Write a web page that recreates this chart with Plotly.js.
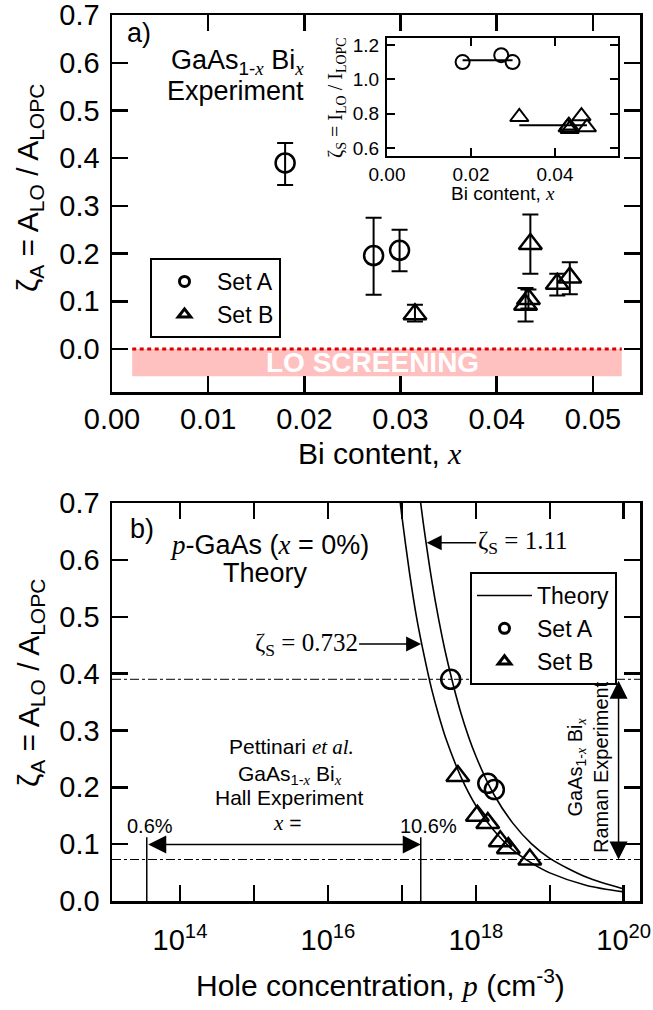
<!DOCTYPE html>
<html><head><meta charset="utf-8">
<script src="https://cdn.plot.ly/plotly-3.0.1.min.js"></script>
<style>html,body{margin:0;padding:0;background:#fff}</style>
</head><body><div id="chart" style="width:653px;height:1010px"></div>
<script>
// ---------------- data ----------------
const setA_x = [0.018, 0.0272, 0.0299];
const setA_zetaA = [0.39, 0.196, 0.207];
const setA_errPlus = [0.042, 0.079, 0.043];
const setA_errMinus = [0.046, 0.082, 0.044];
const setA_zetaS = [1.10, 1.14, 1.10];
const setA_p = [4.57e17, 1.78e18, 1.45e18];

const setB_x = [0.0315, 0.0430, 0.0433, 0.0435, 0.0463, 0.0476];
const setB_zetaA = [0.073, 0.093, 0.105, 0.220, 0.137, 0.150];
const setB_errPlus = [0.020, 0.035, 0.020, 0.062, 0.021, 0.032];
const setB_errMinus = [0.015, 0.035, 0.020, 0.062, 0.025, 0.035];
const setB_zetaS = [0.78, 0.72, 0.73, 0.71, 0.785, 0.72];
const setB_p = [5.37e18, 2.75e18, 2.14e18, 5.71e17, 1.45e18, 1.05e18];

const zetaS_A = 1.11, zetaS_B = 0.732;

const theoryLow_p = [9.12e16, 1e17, 1.26e17, 1.58e17, 2e17, 2.51e17, 3.16e17, 3.98e17, 6.31e17, 1e18, 1.78e18, 3.16e18, 5.62e18, 1e19, 3.16e19, 1e20];
const theoryLow_zeta = [0.721, 0.677, 0.580, 0.499, 0.4315, 0.374, 0.326, 0.284, 0.218, 0.168, 0.123, 0.090, 0.067, 0.0495, 0.0274, 0.016];
const theoryHigh_p = [1.74e17, 2e17, 2.51e17, 3.16e17, 3.98e17, 6.31e17, 1e18, 1.78e18, 3.16e18, 5.62e18, 1e19, 3.16e19, 1e20];
const theoryHigh_zeta = [0.714, 0.654, 0.5675, 0.494, 0.431, 0.330, 0.255, 0.186, 0.137, 0.101, 0.075, 0.0416, 0.021];

const hall_p = [3.55e13, 1.8e17];
const hall_labels = ['0.6%', '10.6%'];

const seriesNames = ['Set A', 'Set B', 'Theory'];
const xTicksA = [0, 0.01, 0.02, 0.03, 0.04, 0.05];
const yTicksA = [0, 0.1, 0.2, 0.3, 0.4, 0.5, 0.6, 0.7];
const xTicksInset = [0, 0.02, 0.04];
const yTicksInset = [0.6, 0.8, 1.0, 1.2];
const pTickVals = [1e14, 1e15, 1e16, 1e17, 1e18, 1e19, 1e20];
const pTickText = ['10<sup>14</sup>', '', '10<sup>16</sup>', '', '10<sup>18</sup>', '', '10<sup>20</sup>'];

// ---------------- helpers ----------------
const W = 653, H = 1010;
const P = X => X / W, Q = Y => 1 - Y / H;
const SANS = 'Liberation Sans, Arial, sans-serif';
const SERIF = 'Liberation Serif, Times New Roman, serif';
const ix = s => `<i><span style="font-family:${SERIF}">${s}</span></i>`;
const lg = v => Math.log10(v);

const zMax = Math.max(...setA_zetaA, ...setB_zetaA);
const zMin = Math.min(...setA_zetaA, ...setB_zetaA);

const mk = (sym, size, lw) => ({symbol: sym, size: size, color: 'black', line: {width: lw, color: 'black'}});
const err = (p, m) => ({type: 'data', symmetric: false, array: p, arrayminus: m, color: 'black', thickness: 2, width: 8});
// legend-only entries (no data drawn), so legend symbols can be sized like the reference
const legItem = (name, leg, xa, ya, extra) => Object.assign({x: [null], y: [null], name: name, legend: leg,
  xaxis: xa, yaxis: ya, hoverinfo: 'skip'}, extra);

const traces = [
  {x: setA_x, y: setA_zetaA, mode: 'markers', name: 'Set A', showlegend: false, xaxis: 'x', yaxis: 'y',
   marker: mk('circle-open', 19, 2.5), error_y: err(setA_errPlus, setA_errMinus)},
  {x: setB_x, y: setB_zetaA, mode: 'markers', name: 'Set B', showlegend: false, xaxis: 'x', yaxis: 'y',
   marker: mk('triangle-up-open', 20, 2.5), error_y: err(setB_errPlus, setB_errMinus)},
  legItem(seriesNames[0], 'legend', 'x', 'y', {mode: 'markers', marker: mk('circle-open', 10, 3)}),
  legItem(seriesNames[1], 'legend', 'x', 'y', {mode: 'markers', marker: mk('triangle-up-open', 11, 3)}),
  // inset
  {x: [Math.min(...setA_x), Math.max(...setA_x)], y: [zetaS_A, zetaS_A], mode: 'lines', xaxis: 'x2', yaxis: 'y2',
   line: {color: 'black', width: 2}, showlegend: false},
  {x: [Math.min(...setB_x), Math.max(...setB_x)], y: [zetaS_B, zetaS_B], mode: 'lines', xaxis: 'x2', yaxis: 'y2',
   line: {color: 'black', width: 2}, showlegend: false},
  {x: setA_x, y: setA_zetaS, mode: 'markers', xaxis: 'x2', yaxis: 'y2', showlegend: false,
   marker: mk('circle-open', 14, 2)},
  {x: setB_x, y: setB_zetaS, mode: 'markers', xaxis: 'x2', yaxis: 'y2', showlegend: false,
   marker: mk('triangle-up-open', 16, 2)},
  // bottom panel
  {x: theoryLow_p, y: theoryLow_zeta, mode: 'lines', name: 'Theory', showlegend: false, xaxis: 'x3', yaxis: 'y3',
   line: {color: 'black', width: 1.6, shape: 'spline', smoothing: 0.8}},
  {x: theoryHigh_p, y: theoryHigh_zeta, mode: 'lines', xaxis: 'x3', yaxis: 'y3', showlegend: false,
   line: {color: 'black', width: 1.6, shape: 'spline', smoothing: 0.8}},
  {x: setA_p, y: setA_zetaA, mode: 'markers', name: 'Set A', showlegend: false, xaxis: 'x3', yaxis: 'y3',
   marker: mk('circle-open', 19, 2.5)},
  {x: setB_p, y: setB_zetaA, mode: 'markers', name: 'Set B', showlegend: false, xaxis: 'x3', yaxis: 'y3',
   marker: mk('triangle-up-open', 20, 2.5)},
  {x: [hall_p[0], hall_p[0], null, hall_p[1], hall_p[1]], y: [0, 0.112, null, 0, 0.112], mode: 'lines',
   xaxis: 'x3', yaxis: 'y3', showlegend: false, line: {color: 'black', width: 1.5}},
  legItem(seriesNames[2], 'legend2', 'x3', 'y3', {mode: 'lines', line: {color: 'black', width: 1.6}}),
  legItem(seriesNames[0], 'legend2', 'x3', 'y3', {mode: 'markers', marker: mk('circle-open', 10, 3)}),
  legItem(seriesNames[1], 'legend2', 'x3', 'y3', {mode: 'markers', marker: mk('triangle-up-open', 11, 3)})
];

const axBase = {showline: true, linecolor: 'black', linewidth: 2.5, mirror: 'ticks', ticks: 'inside', ticklen: 16,
  tickwidth: 2.5, tickcolor: 'black', showgrid: false, zeroline: false, ticklabeloverflow: 'allow',
  tickfont: {family: SANS, size: 29, color: 'black'}};
const axIn = {showline: true, linecolor: 'black', linewidth: 2, mirror: 'ticks', ticks: 'inside', ticklen: 8,
  tickwidth: 2, tickcolor: 'black', showgrid: false, zeroline: false, ticklabeloverflow: 'allow',
  tickfont: {family: SANS, size: 19, color: 'black'}};

const ann = (X, Y, text, size, extra) => Object.assign({xref: 'paper', yref: 'paper', x: P(X), y: Q(Y), text: text,
  showarrow: false, xanchor: 'center', yanchor: 'middle', font: {family: SANS, size: size, color: 'black'}}, extra || {});

const annotations = [
  ann(30, 188, 'ζ<sub>A</sub> = A<sub>LO</sub> / A<sub>LOPC</sub>', 30, {textangle: -90}),
  ann(30, 683, 'ζ<sub>A</sub> = A<sub>LO</sub> / A<sub>LOPC</sub>', 30, {textangle: -90}),
  ann(380, 454, 'Bi content, ' + ix('x'), 30),
  ann(380, 983, 'Hole concentration, ' + ix('p') + ' (cm<sup>-3</sup>)', 30),
  ann(139, 33, 'a)', 27),
  ann(237, 62, 'GaAs<sub>1-' + ix('x') + '</sub> Bi<sub>' + ix('x') + '</sub>', 27),
  ann(236, 91, 'Experiment', 27),
  ann(372, 362, '<b>LO SCREENING</b>', 28, {font: {family: SANS, size: 28, color: 'white'}}),
  // inset titles
  ann(503, 194, 'Bi content, ' + ix('x'), 19),
  ann(337, 98, 'ζ<sub>S</sub> = I<sub>LO</sub> / I<sub>LOPC</sub>', 20, {textangle: -90, font: {family: SERIF, size: 20, color: 'black'}}),
  // panel b
  ann(142, 529, 'b)', 27),
  ann(269, 545, ix('p') + '-GaAs (' + ix('x') + ' = 0%)', 27),
  ann(265, 573, 'Theory', 27),
  ann(291, 747, 'Pettinari ' + ix('et al.'), 21),
  ann(290, 775, 'GaAs<sub>1-' + ix('x') + '</sub> Bi<sub>' + ix('x') + '</sub>', 21),
  ann(289, 797, 'Hall Experiment', 21),
  ann(287, 823, ix('x') + ' =', 21),
  ann(150, 826, hall_labels[0], 20),
  ann(428, 826, hall_labels[1], 20),
  ann(588, 767, 'GaAs<sub>1-' + ix('x') + '</sub> Bi<sub>' + ix('x') + '</sub><br>Raman Experiment', 20, {textangle: -90}),
  // arrows
  {xref: 'x3', yref: 'y3', x: 17.26, y: 0.452, ax: -115, ay: 0, text: 'ζ<sub>S</sub> = ' + zetaS_B,
   font: {family: SERIF, size: 25, color: 'black'}, showarrow: true, arrowhead: 2, arrowsize: 2, arrowwidth: 1.5, arrowcolor: 'black'},
  {xref: 'x3', yref: 'y3', x: 17.335, y: 0.63, ax: 96, ay: 0, text: 'ζ<sub>S</sub> = ' + zetaS_A,
   font: {family: SERIF, size: 25, color: 'black'}, showarrow: true, arrowhead: 2, arrowsize: 2, arrowwidth: 1.5, arrowcolor: 'black'},
  {xref: 'x3', yref: 'y3', x: lg(hall_p[1]), y: 0.0994, axref: 'x3', ayref: 'y3', ax: lg(hall_p[0]), ay: 0.0994, text: '',
   showarrow: true, arrowside: 'end+start', arrowhead: 2, arrowsize: 2.4, arrowwidth: 1.5, arrowcolor: 'black'},
  {xref: 'x3', yref: 'y3', x: 19.93, y: zMin, axref: 'x3', ayref: 'y3', ax: 19.93, ay: zMax, text: '',
   showarrow: true, arrowside: 'end+start', arrowhead: 2, arrowsize: 2.4, arrowwidth: 1.5, arrowcolor: 'black'}
];

const shapes = [
  {type: 'rect', xref: 'x', yref: 'y', x0: 0.0021, x1: 0.053, y0: -0.057, y1: 0, fillcolor: '#ffc0c0', line: {width: 0}, layer: 'below'},
  {type: 'line', xref: 'x', yref: 'y', x0: 0.0021, x1: 0.053, y0: 0, y1: 0, line: {color: '#dd0000', width: 3, dash: '4px,3.5px'}},
  {type: 'line', xref: 'x3 domain', yref: 'y3', x0: 0, x1: 1, y0: zMax, y1: zMax, line: {color: 'black', width: 1, dash: 'dashdot'}},
  {type: 'line', xref: 'x3 domain', yref: 'y3', x0: 0, x1: 1, y0: zMin, y1: zMin, line: {color: 'black', width: 1, dash: 'dashdot'}}
];

const legBase = {bordercolor: 'black', borderwidth: 2, bgcolor: 'white', xanchor: 'left', yanchor: 'top',
  font: {family: SANS, size: 23, color: 'black'}, itemsizing: 'trace', tracegroupgap: 0, itemwidth: 55};

const layout = {
  width: W, height: H, margin: {l: 0, r: 0, t: 0, b: 0}, paper_bgcolor: 'white', plot_bgcolor: 'rgba(0,0,0,0)',
  showlegend: true,
  xaxis: Object.assign({}, axBase, {domain: [P(112), P(640)], range: [0, 0.0549], tickvals: xTicksA, tickformat: '.2f',
    ticklabelstandoff: 0, anchor: 'y'}),
  yaxis: Object.assign({}, axBase, {domain: [Q(392), Q(15)], range: [-0.09, 0.7001], tickvals: yTicksA, tickformat: '.1f',
    ticklabelstandoff: 4, anchor: 'x'}),
  xaxis2: Object.assign({}, axIn, {domain: [P(387), P(618)], range: [0, 0.055], tickvals: xTicksInset, tickformat: '.2f',
    ticklabelstandoff: 0, anchor: 'y2'}),
  yaxis2: Object.assign({}, axIn, {domain: [Q(156), Q(38)], range: [0.553, 1.24], tickvals: yTicksInset, tickformat: '.1f',
    ticklabelstandoff: 2, anchor: 'x2'}),
  xaxis3: Object.assign({}, axBase, {domain: [P(112), P(640)], type: 'log', range: [13.08, 20.22], tickvals: pTickVals,
    ticktext: pTickText, ticklabelstandoff: 12, anchor: 'y3'}),
  yaxis3: Object.assign({}, axBase, {domain: [Q(901), Q(503)], range: [0, 0.7001], tickvals: yTicksA, tickformat: '.1f',
    ticklabelstandoff: 4, anchor: 'x3'}),
  legend: Object.assign({}, legBase, {x: P(150), y: Q(258)}),
  legend2: Object.assign({}, legBase, {x: P(470), y: Q(572)}),
  annotations: annotations,
  shapes: shapes
};

Plotly.newPlot('chart', traces, layout, {displayModeBar: false, staticPlot: true});
</script></body></html>
